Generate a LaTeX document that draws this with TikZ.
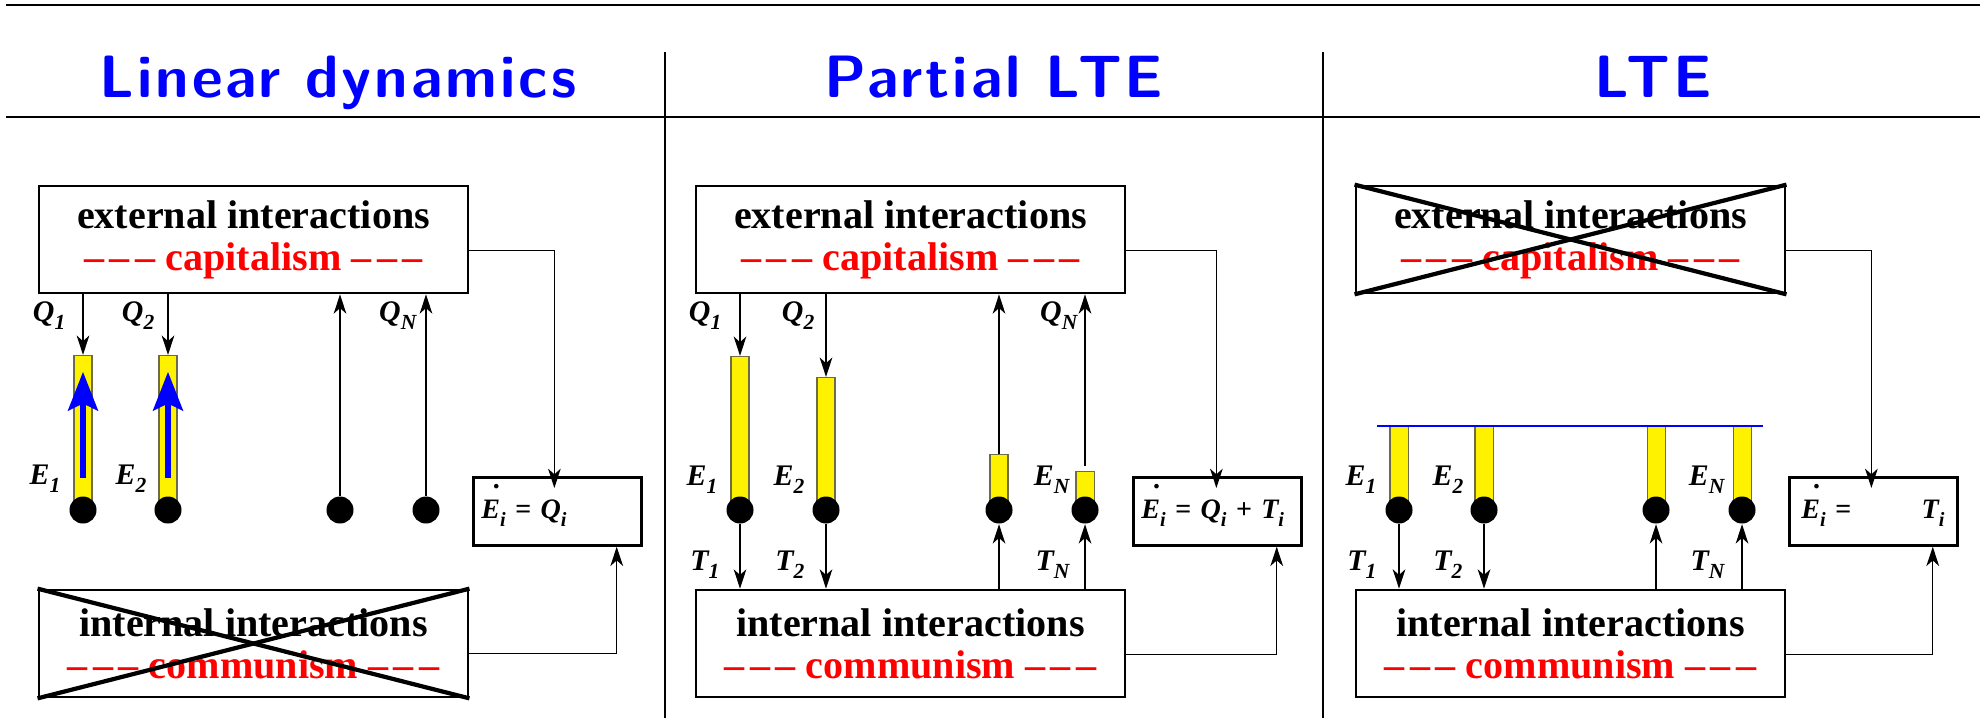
\documentclass[tikz,border=0pt]{standalone}
\usepackage{fontspec}
\setmainfont{Liberation Serif}
\newfontfamily\titlefont{lmsans10-bold}[Extension=.otf, LetterSpace=5]
\usepackage{tikz}
\usetikzlibrary{arrows.meta}

\newcommand{\lbl}[2]{#1\raisebox{-0.3em}{\scalebox{0.72}{#2}}}
\newcommand{\Edot}{\rlap{\hspace{0.45em}\raisebox{1.05em}{.}}E}
\newcommand{\tdash}{\textendash\kern1.6pt\textendash\kern1.6pt\textendash}

\begin{document}
\begin{tikzpicture}[x=0.01cm, y=-0.01cm,
	box/.style={draw, line width=0.75pt, minimum width=4.29cm, minimum height=1.07cm, inner sep=0pt, align=center, font=\fontsize{11.4}{12}\selectfont\bfseries},
	ebox/.style={draw, line width=0.75pt, anchor=north west, minimum height=0.68cm, text width=1.52cm, inner xsep=0.08cm, inner ysep=0pt, align=left, text height=0.2cm, text depth=0.06cm, font=\fontsize{8}{9}\selectfont\bfseries\itshape},
	dot/.style={circle, fill, inner sep=0pt, minimum size=0.27cm},
	bar/.style={draw=black!65!yellow, fill=yellow, line width=0.3pt, minimum width=0.18cm, inner sep=0pt, anchor=south},
	lab/.style={anchor=base east, inner sep=0pt, font=\fontsize{8.5}{9}\selectfont\bfseries\itshape},
	conn/.style={line width=0.4pt, -{Stealth[length=5.5pt, width=3.6pt, inset=1.6pt]}},
	cross/.style={line width=1.2pt},
	head/.style={font=\titlefont\fontsize{17}{20}\selectfont, text=blue, anchor=base, inner sep=0pt}]

	\useasboundingbox (0,0) rectangle (1980,718);

	%header

	\draw[line width=0.6pt] (6,5) -- (1980,5);
	\draw[line width=0.6pt] (6,117) -- (1980,117);
	\draw[line width=0.5pt] (665,52) -- (665,718);
	\draw[line width=0.5pt] (1323,52) -- (1323,718);
	\node[head] (t1) at (338,97) {Linear dynamics};
	\node[head] (t2) at (994,97) {Partial LTE};
	\node[head] (t3) at (1653,97) {LTE};


	%panel 1

	\node[box] (ext1) at (253.5,239.5) {external interactions\\\textcolor{red}{\tdash{} capitalism \tdash}};
	\node[box] (int1) at (253.5,643.5) {internal interactions\\\textcolor{red}{\tdash{} communism \tdash}};
	\draw[cross] (int1.north west) -- (int1.south east);
	\draw[cross] (int1.south west) -- (int1.north east);
	\node[ebox] (eq1) at (472,476) {\Edot\lbl{}{i} = \lbl{Q}{i}};
	\draw[conn] ([yshift=-0.11cm]ext1.east) -| ([xshift=-0.03cm,yshift=-0.12cm]eq1.north);
	\draw[conn] ([yshift=-0.1cm]int1.east) -| ([xshift=-0.26cm]eq1.south east);

	\foreach \n/\x in {1/83, 2/168, 3/340, 4/426}
		\coordinate (c1\n) at (\x,510);
	\node[bar, minimum height=1.54cm] (b11) at (c11) {};
	\node[bar, minimum height=1.54cm] (b12) at (c12) {};
	\draw[blue, line width=1.5pt, -{Stealth[length=11pt, width=8.5pt, inset=2pt]}] ([yshift=0.32cm]b11.south) -- ([yshift=-0.17cm]b11.north);
	\draw[blue, line width=1.5pt, -{Stealth[length=11pt, width=8.5pt, inset=2pt]}] ([yshift=0.32cm]b12.south) -- ([yshift=-0.17cm]b12.north);
	\foreach \n in {1,...,4}
		\node[dot] (d1\n) at (c1\n) {};
	\draw[conn] (ext1.south -| b11) -- (b11.north);
	\draw[conn] (ext1.south -| b12) -- (b12.north);
	\draw[conn] (d13) -- (ext1.south -| d13);
	\draw[conn] (d14) -- (ext1.south -| d14);

	\node[lab] (q11) at (66,321) {\lbl{Q}{1}};
	\node[lab] (q12) at (155,321) {\lbl{Q}{2}};
	\node[lab] (q1n) at (417,321) {\lbl{Q}{N}};
	\node[lab] (e11) at (61,484) {\lbl{E}{1}};
	\node[lab] (e12) at (147,484) {\lbl{E}{2}};


	%panel 2

	\node[box] (ext2) at (910.5,239.5) {external interactions\\\textcolor{red}{\tdash{} capitalism \tdash}};
	\node[box] (int2) at (910.5,643.5) {internal interactions\\\textcolor{red}{\tdash{} communism \tdash}};
	\node[ebox] (eq2) at (1132,476) {\Edot\lbl{}{i} = \lbl{Q}{i} + \lbl{T}{i}};
	\draw[conn] ([yshift=-0.11cm]ext2.east) -| ([xshift=-0.01cm,yshift=-0.12cm]eq2.north);
	\draw[conn] ([yshift=-0.11cm]int2.east) -| ([xshift=-0.26cm]eq2.south east);

	\foreach \n/\x in {1/740, 2/826, 3/999, 4/1085}
		\coordinate (c2\n) at (\x,510);
	\node[bar, minimum height=1.53cm] (b21) at (c21) {};
	\node[bar, minimum height=1.32cm] (b22) at (c22) {};
	\node[bar, minimum height=0.55cm] (b23) at (c23) {};
	\node[bar, minimum height=0.38cm] (b24) at (c24) {};
	\foreach \n in {1,...,4}
		\node[dot] (d2\n) at (c2\n) {};
	\draw[conn] (ext2.south -| b21) -- (b21.north);
	\draw[conn] (ext2.south -| b22) -- (b22.north);
	\draw[conn] (b23.north) -- (ext2.south -| b23);
	\draw[conn] ([yshift=0.05cm]b24.north) -- (ext2.south -| b24);
	\draw[conn] (d21) -- (int2.north -| d21);
	\draw[conn] (d22) -- (int2.north -| d22);
	\draw[conn] (int2.north -| d23) -- (d23);
	\draw[conn] (int2.north -| d24) -- (d24);

	\node[lab] (q21) at (722,321) {\lbl{Q}{1}};
	\node[lab] (q22) at (815,321) {\lbl{Q}{2}};
	\node[lab] (q2n) at (1078,321) {\lbl{Q}{N}};
	\node[lab] (e21) at (718,485) {\lbl{E}{1}};
	\node[lab] (e22) at (805,485) {\lbl{E}{2}};
	\node[lab] (e2n) at (1070,485) {\lbl{E}{N}};
	\node[lab] (t21) at (720,570) {\lbl{T}{1}};
	\node[lab] (t22) at (805,570) {\lbl{T}{2}};
	\node[lab] (t2n) at (1070,570) {\lbl{T}{N}};


	%panel 3

	\node[box] (ext3) at (1570.5,239.5) {external interactions\\\textcolor{red}{\tdash{} capitalism \tdash}};
	\draw[cross] (ext3.north west) -- (ext3.south east);
	\draw[cross] (ext3.south west) -- (ext3.north east);
	\node[box] (int3) at (1570.5,643.5) {internal interactions\\\textcolor{red}{\tdash{} communism \tdash}};
	\node[ebox] (eq3) at (1788,476) {\hspace{0.04cm}\makebox[1.43cm][l]{\Edot\lbl{}{i} =\hfill\lbl{T}{i}}};
	\draw[conn] ([yshift=-0.11cm]ext3.east) -| ([xshift=-0.02cm,yshift=-0.12cm]eq3.north);
	\draw[conn] ([yshift=-0.11cm]int3.east) -| ([xshift=-0.26cm]eq3.south east);

	\foreach \n/\x in {1/1399, 2/1484, 3/1656, 4/1742}
		\coordinate (c3\n) at (\x,510);
	\foreach \n in {1,...,4}
		\node[bar, minimum height=0.84cm] (b3\n) at (c3\n) {};
	\draw[blue, line width=0.6pt] (1377,426) -- (1763,426);
	\foreach \n in {1,...,4}
		\node[dot] (d3\n) at (c3\n) {};
	\draw[conn] (d31) -- (int3.north -| d31);
	\draw[conn] (d32) -- (int3.north -| d32);
	\draw[conn] (int3.north -| d33) -- (d33);
	\draw[conn] (int3.north -| d34) -- (d34);

	\node[lab] (e31) at (1377,485) {\lbl{E}{1}};
	\node[lab] (e32) at (1464,485) {\lbl{E}{2}};
	\node[lab] (e3n) at (1725,485) {\lbl{E}{N}};
	\node[lab] (t31) at (1377,570) {\lbl{T}{1}};
	\node[lab] (t32) at (1463,570) {\lbl{T}{2}};
	\node[lab] (t3n) at (1725,570) {\lbl{T}{N}};

\end{tikzpicture}
\end{document}
